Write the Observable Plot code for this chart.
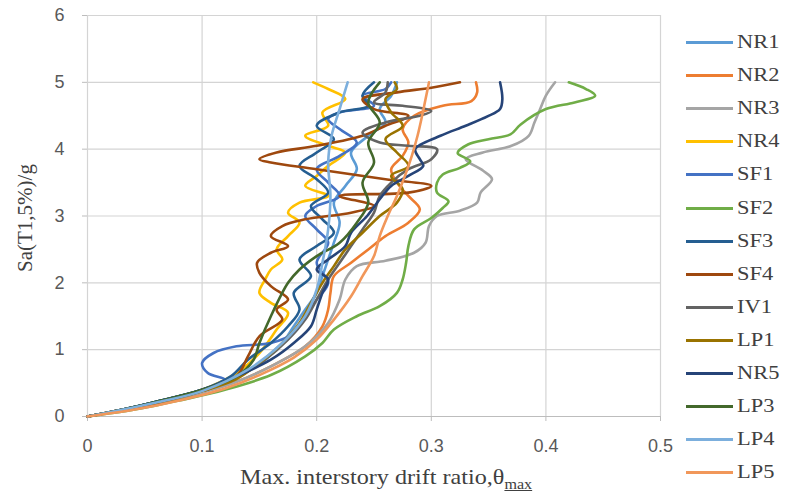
<!DOCTYPE html>
<html><head><meta charset="utf-8">
<script src="https://cdn.jsdelivr.net/npm/d3@7"></script>
<script src="https://cdn.jsdelivr.net/npm/@observablehq/plot@0.6"></script>
<style>
body{margin:0;background:#fff;}
#wrap{position:relative;width:786px;height:499px;overflow:hidden;}
#xt{position:absolute;left:240px;top:465px;font-family:"Liberation Serif",serif;font-size:21px;color:#404040;white-space:nowrap;transform-origin:0 0;transform:scaleX(1.15);}
#xt sub{font-size:14px;text-decoration:underline;}
#yt{position:absolute;left:25px;top:218px;transform:translate(-50%,-50%) rotate(-90deg);font-family:"Liberation Serif",serif;font-size:21px;color:#404040;white-space:nowrap;}
#legend{position:absolute;left:686px;top:30px;font-family:"Liberation Serif",serif;font-size:19px;color:#404040;}
.li{position:absolute;left:0;height:24px;white-space:nowrap;}
.li span.sw{position:absolute;left:0;top:11px;width:47px;height:3px;}
.li span.tx{position:absolute;left:51px;top:0;line-height:24px;display:inline-block;transform-origin:0 50%;transform:scaleX(1.18);}
</style></head>
<body><div id="wrap"></div>
<script>
// ---- data ----
const seriesNames = ["NR1","NR2","NR3","NR4","SF1","SF2","SF3","SF4","IV1","LP1","NR5","LP3","LP4","LP5"];
const seriesColors = ["#5B9BD5","#ED7D31","#A5A5A5","#FFC000","#4472C4","#70AD47","#255E91","#9E480E","#636363","#997300","#264478","#43682B","#7CAFDD","#F1975A"];
const xTicks = [0,0.1,0.2,0.3,0.4,0.5];
const yTicks = [0,1,2,3,4,5,6];

const NR1 = [[0,0],[0.03,0.1],[0.06,0.22],[0.1,0.4],[0.13,0.6],[0.155,0.85],[0.17,1.1],[0.18,1.35],[0.19,1.6],[0.2,1.85],[0.205,2.1],[0.21,2.35],[0.215,2.6],[0.22,2.9],[0.215,3.2],[0.225,3.45],[0.235,3.7],[0.23,3.95],[0.245,4.2],[0.26,4.4],[0.255,4.6],[0.265,4.8],[0.27,5.0]];
const NR2 = [[0,0],[0.03,0.09],[0.06,0.19],[0.1,0.36],[0.13,0.52],[0.16,0.75],[0.19,1.05],[0.205,1.35],[0.21,1.6],[0.212,1.85],[0.215,2.1],[0.23,2.3],[0.245,2.5],[0.26,2.7],[0.28,2.9],[0.29,3.1],[0.28,3.3],[0.27,3.5],[0.265,3.7],[0.275,3.9],[0.28,4.1],[0.275,4.3],[0.285,4.5],[0.31,4.65],[0.335,4.72],[0.34,4.85],[0.339,5.0]];
const NR3 = [[0,0],[0.03,0.09],[0.06,0.2],[0.1,0.36],[0.13,0.52],[0.16,0.75],[0.19,1.05],[0.21,1.4],[0.22,1.75],[0.225,2.05],[0.235,2.25],[0.26,2.33],[0.285,2.45],[0.295,2.6],[0.298,2.85],[0.305,3.0],[0.325,3.08],[0.34,3.2],[0.343,3.35],[0.353,3.55],[0.345,3.68],[0.33,3.85],[0.345,3.95],[0.37,4.05],[0.385,4.2],[0.39,4.4],[0.395,4.6],[0.4,4.8],[0.408,5.0]];
const NR4 = [[0,0],[0.03,0.1],[0.06,0.21],[0.1,0.4],[0.13,0.65],[0.15,0.95],[0.165,1.3],[0.175,1.55],[0.16,1.7],[0.15,1.85],[0.155,2.05],[0.16,2.2],[0.17,2.35],[0.165,2.5],[0.175,2.7],[0.185,2.9],[0.175,3.05],[0.185,3.2],[0.21,3.3],[0.19,3.45],[0.2,3.6],[0.21,3.75],[0.225,3.95],[0.21,4.05],[0.19,4.2],[0.21,4.35],[0.205,4.55],[0.225,4.75],[0.21,4.9],[0.197,5.0]];
const SF1 = [[0,0],[0.03,0.1],[0.06,0.22],[0.1,0.4],[0.12,0.55],[0.105,0.65],[0.1,0.8],[0.11,0.95],[0.13,1.05],[0.16,1.1],[0.18,1.25],[0.19,1.5],[0.2,1.75],[0.21,2.0],[0.2,2.3],[0.21,2.6],[0.2,2.8],[0.19,3.0],[0.2,3.15],[0.22,3.3],[0.21,3.5],[0.2,3.7],[0.22,3.9],[0.235,4.1],[0.22,4.3],[0.21,4.45],[0.22,4.55],[0.25,4.65],[0.24,4.8],[0.26,4.9],[0.265,5.0]];
const SF2 = [[0,0],[0.04,0.1],[0.08,0.24],[0.12,0.4],[0.16,0.62],[0.19,0.9],[0.205,1.1],[0.215,1.3],[0.235,1.5],[0.255,1.65],[0.27,1.85],[0.275,2.05],[0.278,2.3],[0.28,2.55],[0.285,2.8],[0.3,2.97],[0.31,3.12],[0.315,3.22],[0.305,3.35],[0.305,3.5],[0.31,3.62],[0.325,3.72],[0.334,3.82],[0.323,3.94],[0.332,4.07],[0.35,4.15],[0.369,4.22],[0.378,4.37],[0.4,4.6],[0.425,4.7],[0.443,4.8],[0.435,4.9],[0.42,5.0]];
const SF3 = [[0,0],[0.03,0.1],[0.06,0.22],[0.1,0.4],[0.125,0.6],[0.14,0.85],[0.16,1.1],[0.175,1.35],[0.185,1.6],[0.18,1.85],[0.195,2.1],[0.185,2.35],[0.2,2.55],[0.215,2.75],[0.205,2.95],[0.195,3.15],[0.21,3.35],[0.2,3.55],[0.185,3.75],[0.2,3.95],[0.215,4.15],[0.2,4.35],[0.22,4.55],[0.245,4.65],[0.24,4.8],[0.25,5.0]];
const SF4 = [[0,0],[0.03,0.1],[0.06,0.2],[0.1,0.38],[0.13,0.6],[0.14,0.9],[0.15,1.2],[0.17,1.45],[0.165,1.6],[0.175,1.75],[0.16,1.95],[0.15,2.15],[0.148,2.3],[0.16,2.45],[0.175,2.55],[0.16,2.7],[0.17,2.85],[0.19,2.95],[0.23,3.05],[0.25,3.15],[0.22,3.3],[0.28,3.35],[0.3,3.45],[0.26,3.55],[0.2,3.7],[0.16,3.8],[0.15,3.85],[0.165,3.95],[0.2,4.05],[0.24,4.2],[0.26,4.35],[0.28,4.5],[0.25,4.6],[0.24,4.75],[0.27,4.85],[0.3,4.92],[0.325,5.0]];
const IV1 = [[0,0],[0.03,0.1],[0.06,0.21],[0.1,0.39],[0.13,0.58],[0.155,0.85],[0.175,1.15],[0.19,1.45],[0.2,1.75],[0.21,2.05],[0.22,2.3],[0.23,2.55],[0.24,2.8],[0.25,3.05],[0.255,3.3],[0.265,3.5],[0.28,3.7],[0.3,3.85],[0.305,4.0],[0.28,4.05],[0.255,4.1],[0.24,4.25],[0.26,4.4],[0.29,4.5],[0.3,4.57],[0.275,4.65],[0.25,4.7],[0.26,4.85],[0.262,5.0]];
const LP1 = [[0,0],[0.03,0.1],[0.06,0.21],[0.1,0.38],[0.13,0.56],[0.15,0.8],[0.17,1.1],[0.185,1.4],[0.195,1.7],[0.205,2.0],[0.215,2.25],[0.225,2.5],[0.24,2.75],[0.255,3.0],[0.27,3.2],[0.275,3.4],[0.265,3.6],[0.28,3.75],[0.27,3.95],[0.26,4.15],[0.275,4.35],[0.265,4.55],[0.26,4.75],[0.27,4.9],[0.268,5.0]];
const NR5 = [[0,0],[0.03,0.1],[0.06,0.22],[0.1,0.4],[0.13,0.6],[0.16,0.85],[0.18,1.1],[0.195,1.35],[0.2,1.6],[0.205,1.85],[0.21,2.05],[0.2,2.2],[0.21,2.35],[0.225,2.55],[0.23,2.75],[0.244,3.0],[0.255,3.25],[0.265,3.45],[0.28,3.6],[0.293,3.75],[0.29,3.85],[0.286,4.0],[0.308,4.2],[0.33,4.35],[0.349,4.49],[0.36,4.6],[0.362,4.75],[0.36,5.0]];
const LP3 = [[0,0],[0.03,0.1],[0.06,0.22],[0.1,0.4],[0.13,0.6],[0.145,0.85],[0.15,1.1],[0.16,1.5],[0.175,2.0],[0.185,2.2],[0.2,2.4],[0.22,2.6],[0.235,2.9],[0.245,3.2],[0.24,3.5],[0.25,3.8],[0.245,4.1],[0.255,4.4],[0.245,4.7],[0.255,5.0]];
const LP4 = [[0,0],[0.03,0.1],[0.06,0.21],[0.1,0.38],[0.14,0.7],[0.17,1.1],[0.19,1.5],[0.2,1.9],[0.205,2.3],[0.21,2.8],[0.212,3.3],[0.21,3.8],[0.213,4.2],[0.22,4.6],[0.227,5.0]];
const LP5 = [[0,0],[0.04,0.1],[0.08,0.24],[0.12,0.42],[0.15,0.62],[0.18,0.88],[0.2,1.15],[0.215,1.45],[0.23,1.8],[0.24,2.1],[0.25,2.4],[0.255,2.7],[0.262,3.0],[0.27,3.3],[0.277,3.6],[0.283,3.9],[0.288,4.2],[0.292,4.5],[0.295,4.75],[0.298,5.0]];
const seriesData = [NR1,NR2,NR3,NR4,SF1,SF2,SF3,SF4,IV1,LP1,NR5,LP3,LP4,LP5];

// ---- build ----
const rows = [];
seriesData.forEach((s,i)=>s.forEach(([x,y],k)=>rows.push({name:seriesNames[i],x,y,k})));

const gridColor = "#d4d4d4";
const chart = Plot.plot({
  width:786, height:499,
  marginLeft:87, marginRight:126, marginTop:15, marginBottom:83,
  style:{fontFamily:"'Liberation Sans',sans-serif", fontSize:"18px", color:"#595959", background:"transparent"},
  x:{domain:[0,0.5]},
  y:{domain:[0,6]},
  color:{domain:seriesNames, range:seriesColors},
  marks:[
    Plot.gridX(xTicks,{stroke:gridColor, strokeOpacity:1, strokeWidth:1.2}),
    Plot.gridY(yTicks,{stroke:gridColor, strokeOpacity:1, strokeWidth:1.2}),
    Plot.axisX(xTicks,{tickFormat:d3.format("~g"), tickSize:5, tickPadding:18, stroke:"#bdbdbd", label:null, fill:"#595959"}),
    Plot.axisY(yTicks,{tickFormat:d3.format("~g"), tickSize:5, tickPadding:18, stroke:"#bdbdbd", label:null, fill:"#595959"}),
    Plot.ruleY([0],{stroke:"#bdbdbd", strokeWidth:1.2}),
    ...seriesNames.map(n=>Plot.line(rows.filter(r=>r.name===n),{x:"x",y:"y",stroke:"name",strokeWidth:2.6,curve:"catmull-rom"}))
  ]
});
const wrap = document.getElementById("wrap");
chart.style.position="absolute"; chart.style.left="0"; chart.style.top="0";
wrap.appendChild(chart);

const xt = document.createElement("div"); xt.id="xt";
xt.innerHTML = "Max. interstory drift ratio,θ<sub>max</sub>";
wrap.appendChild(xt);
const yt = document.createElement("div"); yt.id="yt"; yt.textContent="Sa(T1,5%)/g";
wrap.appendChild(yt);
const lg = document.createElement("div"); lg.id="legend";
seriesNames.forEach((n,i)=>{
  const d=document.createElement("div"); d.className="li"; d.style.top=(i*33.1)+"px";
  d.innerHTML=`<span class="sw" style="background:${seriesColors[i]}"></span><span class="tx">${n}</span>`;
  lg.appendChild(d);
});
wrap.appendChild(lg);
</script></body></html>
